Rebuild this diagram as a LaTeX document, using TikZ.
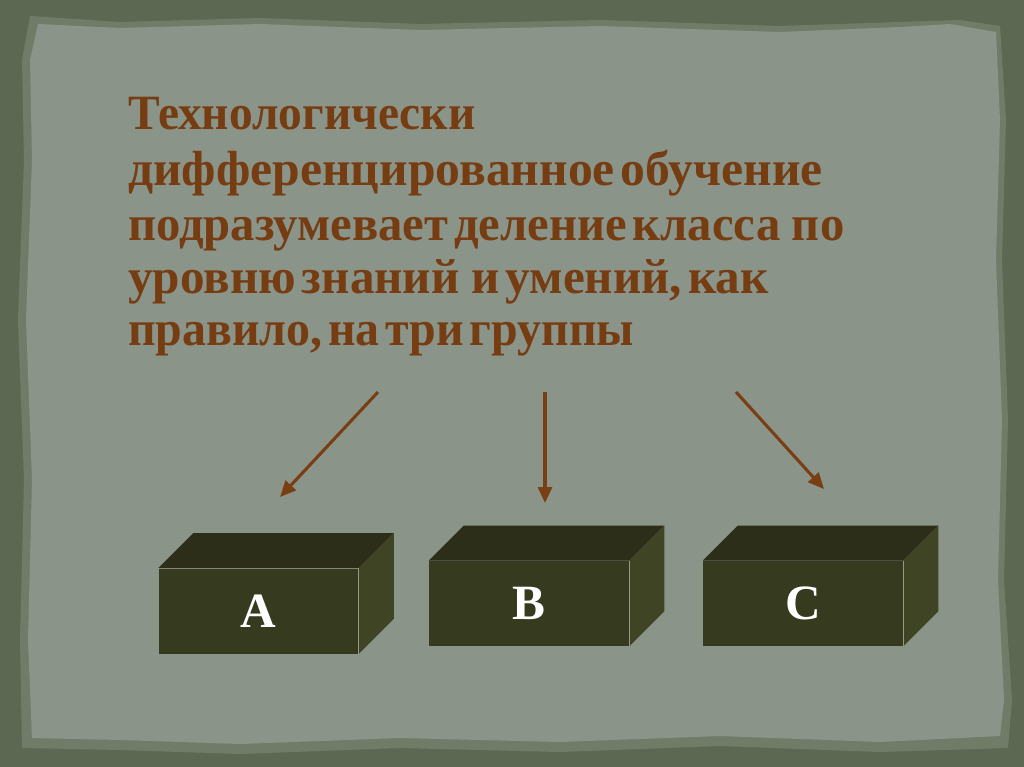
\documentclass[tikz,border=0pt]{standalone}
\usepackage{fontspec}
\setmainfont{Liberation Serif}
\newfontfamily\titlefont{Liberation Serif}
\usetikzlibrary{arrows.meta,calc}
\definecolor{outerc}{RGB}{92,104,82}
\definecolor{rimc}{RGB}{112,124,104}
\definecolor{paperc}{RGB}{138,148,136}
\definecolor{titlec}{RGB}{118,60,18}
\definecolor{frontc}{RGB}{54,59,31}
\definecolor{topc}{RGB}{44,46,25}
\definecolor{sidec}{RGB}{63,69,36}
\definecolor{arrowc}{RGB}{122,62,20}
\newcommand{\tl}[2]{\scalebox{#1}[1]{\spaceskip=0.12em\relax #2}}
\tikzset{
  titleline/.style={anchor=base west, inner sep=0pt, text=titlec, font=\titlefont\fontsize{37}{40}\selectfont\bfseries},
  boxfront/.style={fill=frontc, minimum width=150pt, minimum height=63.75pt, inner sep=0pt, text=white, font=\fontsize{37}{40}\selectfont\bfseries},
  boxtop/.style={fill=topc},
  boxside/.style={fill=sidec},
  edgeline/.style={draw=white!45!sidec, line width=0.7pt},
  arr/.style={draw=arrowc, line width=2.3pt, -{Triangle[length=12pt,width=10.5pt]}}
}
\begin{document}
\begin{tikzpicture}[x=0.75pt,y=-0.75pt]
\useasboundingbox (0,0) rectangle (1024,767);
\fill[outerc] (0,0) rectangle (1024,767);
% paper rim
\fill[rimc] (30,16) -- (120,22) -- (260,18) -- (420,24) -- (600,20) -- (780,26) -- (900,22) -- (960,20) -- (1000,26)
  -- (1006,120) -- (1002,260) -- (1008,420) -- (1004,580) -- (1012,700) -- (1008,748)
  -- (880,752) -- (720,746) -- (560,752) -- (400,748) -- (240,754) -- (120,750) -- (22,748)
  -- (20,640) -- (24,480) -- (18,320) -- (24,160) -- (22,60) -- cycle;
% paper
\fill[paperc] (38,24) -- (120,28) -- (260,24) -- (420,30) -- (600,26) -- (780,32) -- (900,27) -- (950,24) -- (996,32)
  -- (1000,120) -- (996,260) -- (1002,420) -- (998,580) -- (1004,700) -- (1000,736)
  -- (880,742) -- (720,736) -- (560,742) -- (400,738) -- (240,744) -- (120,740) -- (32,738)
  -- (28,640) -- (32,480) -- (26,320) -- (32,160) -- (30,60) -- cycle;
% title
\node[titleline] (t1) at (128,129) {\tl{0.961}{Технологически}};
\node[titleline] (t2) at (128,185) {\tl{1.006}{дифференцированное обучение}};
\node[titleline] (t3) at (128,240) {\tl{0.986}{подразумевает деление класса \ по}};
\node[titleline] (t4) at (128,293) {\tl{0.997}{уровню знаний \ и умений, как}};
\node[titleline] (t5) at (128,345) {\tl{0.971}{правило, на три группы}};
% boxes
\foreach \n/\x/\y in {A/258.5/611, B/529/603.5, C/803/603.5}{
  \node[boxfront] (\n) at (\x,\y) {\n};
  \fill[boxtop] (\n.north west) -- ++(35,-35) -- ($(\n.north east)+(35,-35)$) -- (\n.north east) -- cycle;
  \fill[boxside] (\n.north east) -- ++(35,-35) -- ($(\n.south east)+(35,-35)$) -- (\n.south east) -- cycle;
  \draw[edgeline] (\n.north east) -- (\n.south east);
}
% arrows
\coordinate (s1) at (378,392); \coordinate (e1) at (280,497);
\coordinate (s2) at (545,392); \coordinate (e2) at (545,503);
\coordinate (s3) at (736,392); \coordinate (e3) at (824,489);
\draw[arr] (s1) -- (e1);
\draw[arr] (s2) -- (e2);
\draw[arr] (s3) -- (e3);
\end{tikzpicture}
\end{document}
